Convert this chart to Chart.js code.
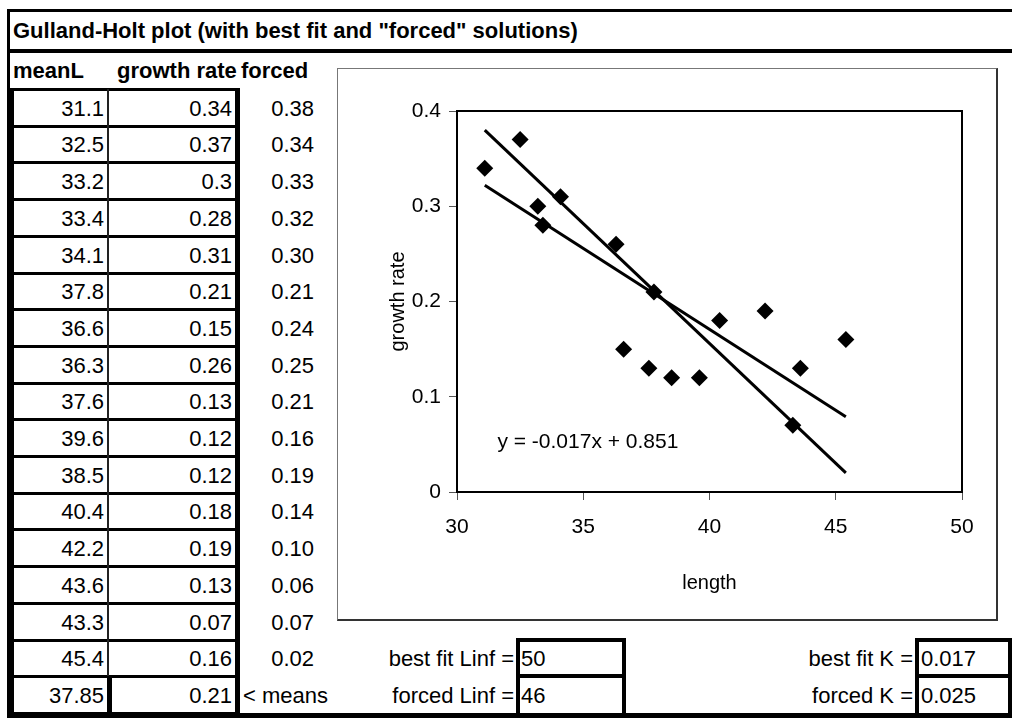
<!DOCTYPE html>
<html>
<head>
<meta charset="utf-8">
<title>Gulland-Holt plot</title>
<script src="https://cdn.jsdelivr.net/npm/chart.js@4.4.1/dist/chart.umd.min.js"></script>
<style>
  html, body { margin: 0; padding: 0; background: #fff; overflow: hidden; }
  #folha {
    position: relative; width: 1012px; height: 719px; overflow: hidden;
    font-family: "Liberation Sans", Arial, sans-serif; color: #000;
  }
  .linha { position: absolute; background: #000; }
  .txt { position: absolute; white-space: nowrap; font-size: 22px; }
  .negrito { font-weight: bold; }
  #moldura {
    position: absolute; left: 337px; top: 68px; width: 658px; height: 550px;
    border-top: 1px solid #777; border-left: 1px solid #777;
    border-right: 2px solid #333; border-bottom: 2px solid #333;
  }
  #grafico-gh { position: absolute; left: 338px; top: 69px; }
</style>
</head>
<body>
<div id="folha">
  <div id="moldura"></div>
  <canvas id="grafico-gh" width="658" height="549"></canvas>
</div>

<script>
const meanL = [31.1, 32.5, 33.2, 33.4, 34.1, 37.8, 36.6, 36.3, 37.6, 39.6, 38.5, 40.4, 42.2, 43.6, 43.3, 45.4];
const growthRate = [0.34, 0.37, 0.3, 0.28, 0.31, 0.21, 0.15, 0.26, 0.13, 0.12, 0.12, 0.18, 0.19, 0.13, 0.07, 0.16];
const forcedRate = ["0.38", "0.34", "0.33", "0.32", "0.30", "0.21", "0.24", "0.25", "0.21", "0.16", "0.19", "0.14", "0.10", "0.06", "0.07", "0.02"];
const linhaMedias = ["37.85", "0.21", "< means"];

const xTicks = ["30", "35", "40", "45", "50"];
const yTicks = ["0", "0.1", "0.2", "0.3", "0.4"];

// trend lines (end points)
const bestFitX = [31.1, 45.4];
const bestFitY = [0.322, 0.079];
const forcedX = [31.1, 45.4];
const forcedY = [0.38, 0.02];
const equacao = "y = -0.017x + 0.851";

const titulo = 'Gulland-Holt plot (with best fit and "forced" solutions)';
const cabecalho = ["meanL", "growth rate", "forced"];
const parametros = [
  ["best fit Linf =", "50", "best fit K =", "0.017"],
  ["forced Linf =", "46", "forced K =", "0.025"],
];

const folha = document.getElementById("folha");
const FONTE = "'Liberation Sans', Arial, sans-serif";

function fonteDisponivel(nome) {
  const c = document.createElement("canvas").getContext("2d");
  const teste = "mmmmmmmmmmlli1234567890";
  c.font = "40px monospace";
  const a = c.measureText(teste).width;
  c.font = `40px "${nome}", monospace`;
  const b = c.measureText(teste).width;
  return a !== b;
}

// o grafico usa uma fonte mais estreita (tipo Arial Narrow)
const temNarrow = fonteDisponivel("Liberation Sans Narrow");
const FONTE_GRAF = temNarrow ? "'Liberation Sans Narrow', " + FONTE : FONTE;
const TAM_TICK = temNarrow ? 25 : 21;
const TAM_TITULO = temNarrow ? 24.5 : 20;
const TAM_EQ = temNarrow ? 26 : 21;

function add(classe, css, texto) {
  const d = document.createElement("div");
  d.className = classe;
  d.style.cssText = css;
  if (texto !== undefined) d.textContent = texto;
  folha.appendChild(d);
  return d;
}

function montarPlanilha() {
  // moldura externa
  add("linha", "left:7px;top:9px;width:1010px;height:3px");
  add("linha", "left:7px;top:9px;width:3px;height:708px");
  add("linha", "left:7px;top:49px;width:1010px;height:4px");
  add("linha", "left:7px;top:713px;width:1010px;height:5px");

  add("txt negrito", "left:13px;top:12px;height:37px;line-height:37px", titulo);
  add("txt negrito", "left:13px;top:53px;height:36px;line-height:36px", cabecalho[0]);
  add("txt negrito", "left:117px;top:53px;height:36px;line-height:36px", cabecalho[1]);
  add("txt negrito", "left:241px;top:53px;height:36px;line-height:36px", cabecalho[2]);

  const topo = 89, alt = 36.7;
  const linhas = meanL.map((m, i) => [String(m), String(growthRate[i]), forcedRate[i]]);
  linhas.push(linhaMedias);

  linhas.forEach((l, i) => {
    const y = Math.round(topo + i * alt);
    const h = Math.round(topo + (i + 1) * alt) - y;
    const base = `top:${y}px;height:${h}px;line-height:${h + 2}px;`;
    add("txt", base + "left:14px;width:90px;text-align:right", l[0]);
    add("txt", base + "left:112px;width:120px;text-align:right", l[1]);
    if (i < linhas.length - 1) {
      add("txt", base + "left:240px;width:74px;text-align:right", l[2]);
    } else {
      add("txt", base + "left:243px", l[2]);
    }
  });

  for (let i = 0; i <= linhas.length; i++) {
    const y = Math.round(topo + i * alt) - 1;
    add("linha", `left:10px;top:${y}px;width:230px;height:3px`);
  }
  const fimDados = Math.round(topo + (linhas.length - 1) * alt);
  add("linha", "left:10px;top:89px;width:4px;height:628px");
  add("linha", `left:107px;top:89px;width:2px;height:${fimDados - 89}px;background:#222`);
  add("linha", `left:107px;top:${fimDados}px;width:5px;height:${713 - fimDados}px`);
  add("linha", "left:235px;top:89px;width:5px;height:628px");

  // Linf / K
  parametros.forEach((p, i) => {
    const y = Math.round(topo + (15 + i) * alt);
    const h = Math.round(topo + (16 + i) * alt) - y;
    const base = `top:${y}px;height:${h}px;line-height:${h + 2}px;`;
    add("txt", base + "left:330px;width:184px;text-align:right", p[0]);
    add("txt", base + "left:521px", p[1]);
    add("txt", base + "left:700px;width:213px;text-align:right", p[2]);
    add("txt", base + "left:921px", p[3]);
  });
  const yBox = Math.round(topo + 15 * alt) - 2;
  const yMeio = Math.round(topo + 16 * alt) - 2;
  add("linha", `left:516px;top:${yBox}px;width:110px;height:4px`);
  add("linha", `left:516px;top:${yMeio}px;width:110px;height:4px`);
  add("linha", `left:516px;top:${yBox}px;width:4px;height:${717 - yBox}px`);
  add("linha", `left:622px;top:${yBox}px;width:4px;height:${717 - yBox}px`);
  add("linha", `left:915px;top:${yBox}px;width:100px;height:4px`);
  add("linha", `left:915px;top:${yMeio}px;width:100px;height:4px`);
  add("linha", `left:915px;top:${yBox}px;width:4px;height:${717 - yBox}px`);
  add("linha", `left:1008px;top:${yBox}px;width:4px;height:${717 - yBox}px`);
}

const bordaPlot = {
  id: "bordaPlot",
  afterDraw(chart) {
    const { ctx, chartArea: a } = chart;
    ctx.save();
    ctx.strokeStyle = "#000";
    ctx.lineWidth = 2;
    ctx.strokeRect(a.left, a.top, a.right - a.left, a.bottom - a.top);
    ctx.restore();
  }
};

const rotuloEquacao = {
  id: "rotuloEquacao",
  afterDatasetsDraw(chart) {
    const { ctx, scales: { x, y } } = chart;
    ctx.save();
    ctx.font = TAM_EQ + "px " + FONTE_GRAF;
    ctx.fillStyle = "#000";
    ctx.textBaseline = "middle";
    ctx.fillText(equacao, x.getPixelForValue(31.6), y.getPixelForValue(0.052));
    ctx.restore();
  }
};

function renderizarGrafico() {
  const pontos = meanL.map((m, i) => ({ x: m, y: growthRate[i] }));
  const linhaBest = bestFitX.map((v, i) => ({ x: v, y: bestFitY[i] }));
  const linhaForced = forcedX.map((v, i) => ({ x: v, y: forcedY[i] }));

  new Chart(document.getElementById("grafico-gh"), {
    type: "scatter",
    data: {
      datasets: [
        {
          label: "growth rate",
          data: pontos,
          pointStyle: "rectRot",
          pointRadius: 8.5,
          backgroundColor: "#000",
          borderColor: "#000",
          borderWidth: 0,
          order: 0,
        },
        {
          label: "best fit",
          data: linhaBest,
          showLine: true,
          borderColor: "#000",
          borderWidth: 3,
          pointRadius: 0,
          order: 1,
        },
        {
          label: "forced",
          data: linhaForced,
          showLine: true,
          borderColor: "#000",
          borderWidth: 3,
          pointRadius: 0,
          order: 1,
        },
      ],
    },
    options: {
      responsive: false,
      animation: false,
      devicePixelRatio: 1,
      layout: { padding: { left: 0, top: 42, right: 34, bottom: 0 } },
      plugins: {
        legend: { display: false },
        title: { display: false },
        tooltip: { enabled: false },
      },
      scales: {
        x: {
          type: "linear",
          min: 30,
          max: 50,
          ticks: {
            stepSize: 5,
            color: "#000",
            padding: 15,
            font: { family: FONTE_GRAF, size: TAM_TICK },
            callback: (v, i) => xTicks[i],
          },
          grid: { drawOnChartArea: false, drawTicks: true, tickLength: 8, tickColor: "#555" },
          border: { display: true, color: "#000", width: 2 },
          title: {
            display: true,
            text: "length",
            color: "#000",
            font: { family: FONTE_GRAF, size: TAM_TITULO },
            padding: { top: 0, bottom: 23 },
          },
          afterFit: (s) => { s.height = 126; },
        },
        y: {
          min: 0,
          max: 0.4,
          ticks: {
            stepSize: 0.1,
            color: "#000",
            padding: 8,
            font: { family: FONTE_GRAF, size: TAM_TICK },
            callback: (v, i) => yTicks[i],
          },
          grid: { drawOnChartArea: false, drawTicks: true, tickLength: 8, tickColor: "#555" },
          border: { display: true, color: "#000", width: 2 },
          title: {
            display: true,
            text: "growth rate",
            color: "#000",
            font: { family: FONTE_GRAF, size: TAM_TITULO },
            padding: { top: 48, bottom: 0 },
          },
          afterFit: (s) => { s.width = 119; },
        },
      },
    },
    plugins: [bordaPlot, rotuloEquacao],
  });
}

montarPlanilha();
renderizarGrafico();
</script>
</body>
</html>
